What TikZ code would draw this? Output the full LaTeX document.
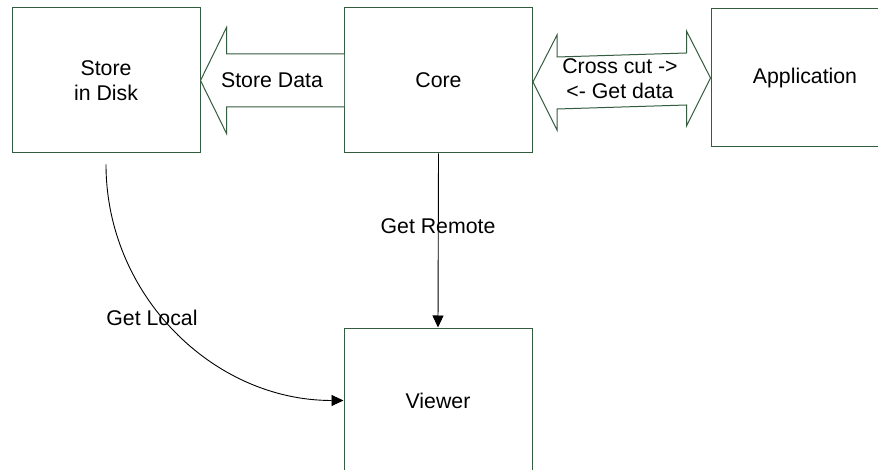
\documentclass[tikz,border=0pt]{standalone}
\usepackage{fontspec}
\setmainfont{Liberation Sans}
\usetikzlibrary{arrows.meta,calc}
\definecolor{boxline}{RGB}{52,92,62}
\begin{document}
\begin{tikzpicture}[x=1pt,y=-1pt,
  every node/.style={font=\fontsize{21.3}{24.8}\selectfont, text=black},
  block/.style={draw=boxline, line width=1pt, fill=white, minimum width=188pt, minimum height=145pt, inner sep=0pt, align=center},
  bigarrow/.style={draw=boxline, line width=1pt, fill=white, line join=miter},
  conn/.style={draw=black, line width=0.9pt, -{Triangle[length=12pt,width=11pt]}},
  lbl/.style={inner sep=0pt, align=center}]
\useasboundingbox (0,0) rectangle (878,470);
\fill[white] (0,0) rectangle (878,470);

% components
\node[block] (store) at (106,80.5) {Store\\in Disk};
\node[block] (core) at (438.5,80.5) {Core};
\node[block, minimum height=138pt] (app) at (805,78) {Application};
\node[block] (viewer) at (438,400.5) {Viewer};

% core -> store: single block arrow
\draw[bigarrow] ([yshift=-26.5pt]core.west)
  -- ([xshift=26pt,yshift=-26.5pt]store.east)
  -- ([xshift=26pt,yshift=-53pt]store.east)
  -- (store.east)
  -- ([xshift=26pt,yshift=53pt]store.east)
  -- ([xshift=26pt,yshift=26.5pt]store.east)
  -- ([yshift=26.5pt]core.west);
\node[lbl] (storedata) at (272,80) {Store Data};

% core <-> application: double block arrow
\coordinate (dl) at ([yshift=-1.5pt]core.east);
\coordinate (dr) at (app.west);
\draw[bigarrow] (dl)
  -- ([xshift=24pt,yshift=47pt]dl)
  -- ([xshift=24pt,yshift=25pt]dl)
  -- ([xshift=-24pt,yshift=25pt]dr)
  -- ([xshift=-24pt,yshift=47pt]dr)
  -- (dr)
  -- ([xshift=-24pt,yshift=-48pt]dr)
  -- ([xshift=-24pt,yshift=-27pt]dr)
  -- ([xshift=24pt,yshift=-27pt]dl)
  -- ([xshift=24pt,yshift=-48pt]dl)
  -- cycle;
\node[lbl] (xcut) at (620,79) {Cross cut ->\\<- Get data};

% core -> viewer
\draw[conn] (core.south) -- (viewer.north);
\node[lbl] (remote) at (438,226) {Get Remote};

% store -> viewer
\coordinate (glstart) at ([yshift=-11pt]store.south);
\draw[conn] (glstart) .. controls +(0,130) and +(-131,0) .. (viewer.west);
\node[lbl] (local) at (152,318) {Get Local};
\end{tikzpicture}
\end{document}
